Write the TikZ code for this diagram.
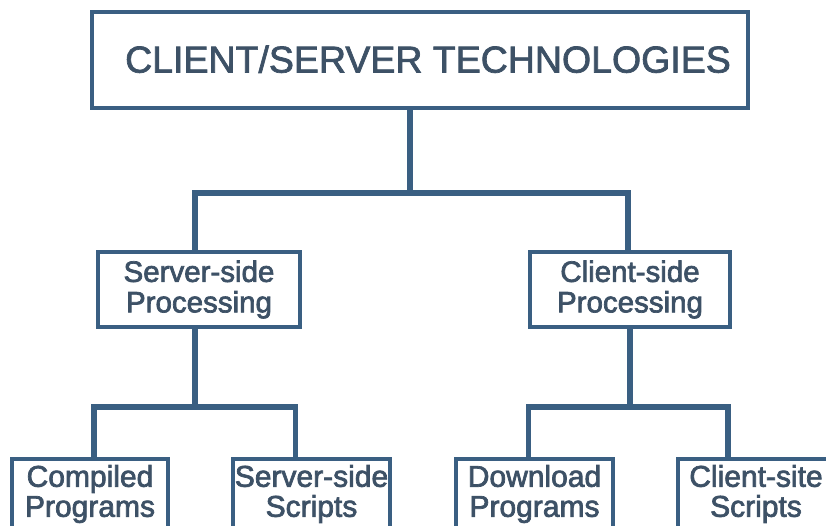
\documentclass[tikz,border=0pt]{standalone}
\usepackage{fontspec}
\setmainfont{Liberation Sans}
\definecolor{boxline}{HTML}{3A5F82}
\definecolor{boxtext}{HTML}{3D5166}
\newcommand{\heavytext}{\special{pdf:literal direct 2 Tr 0.7 w}}
\begin{document}
\begin{tikzpicture}[x=1pt,y=-1pt]
        \tikzstyle{topic}=[draw=boxline,line width=3.5pt,fill=white,text=boxtext,align=center,inner sep=0pt]
        \tikzstyle{link}=[draw=boxline,line width=5.5pt,line join=miter]
        \useasboundingbox (0,0) rectangle (826,526);
        \clip (0,0) rectangle (826,526);
        \fill[white] (0,0) rectangle (826,526);
        % root
        \node [topic,minimum width=656pt,minimum height=96pt,text depth=2pt,font=\fontsize{37.5}{40}\selectfont] (tech) at (420,60) {\heavytext\hspace*{16pt}CLIENT/SERVER TECHNOLOGIES};
        % second level
        \node [topic,minimum width=202pt,minimum height=75pt,font=\fontsize{29.5}{30.5}\selectfont] (ssp) at (199,289.5) {\heavytext Server-side\\Processing};
        \node [topic,minimum width=200pt,minimum height=75pt,font=\fontsize{29.5}{30.5}\selectfont] (csp) at (630,289.5) {\heavytext Client-side\\Processing};
        % leaves
        \node [topic,minimum width=156pt,minimum height=70pt,font=\fontsize{30}{30}\selectfont] (cp) at (90,494) {\heavytext Compiled\\Programs};
        \node [topic,minimum width=157pt,minimum height=70pt,font=\fontsize{30}{30}\selectfont] (sss) at (311.5,494) {\heavytext Server-side\\Scripts};
        \node [topic,minimum width=157pt,minimum height=70pt,font=\fontsize{30}{30}\selectfont] (dp) at (534.5,494) {\heavytext Download\\Programs};
        \node [topic,minimum width=156pt,minimum height=70pt,font=\fontsize{30}{30}\selectfont] (css) at (756,494) {\heavytext Client-site\\Scripts};
        % forks
        \coordinate (fork) at (410,193);
        \coordinate (sfork) at (195,407);
        \coordinate (cfork) at (630,407);
        \path[link] (tech.south -| fork) -- (fork);
        \path[link] ([xshift=-4pt]ssp.north) |- (fork) -| ([xshift=-2pt]csp.north);
        \path[link] (ssp.south -| sfork) -- (sfork);
        \path[link] ([xshift=4pt]cp.north) |- (sfork) -| ([xshift=-16pt]sss.north);
        \path[link] (csp.south -| cfork) -- (cfork);
        \path[link] ([xshift=-6pt]dp.north) |- (cfork) -| ([xshift=-28pt]css.north);
\end{tikzpicture}
\end{document}
